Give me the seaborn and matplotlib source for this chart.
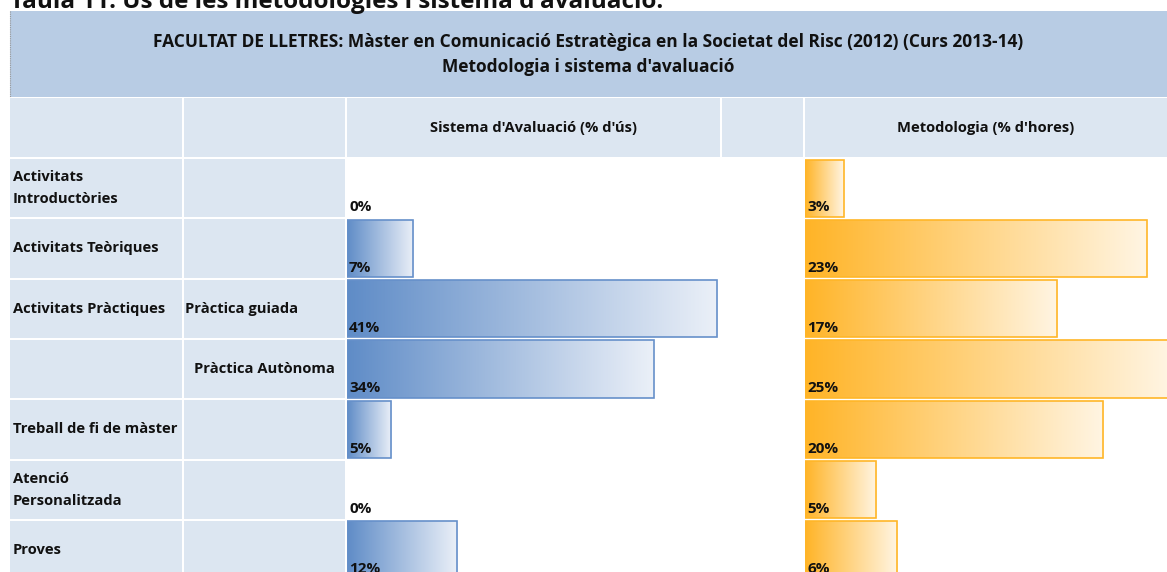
import numpy as np
import pandas as pd
import matplotlib
matplotlib.use("Agg")
import matplotlib.pyplot as plt
import seaborn as sns
from matplotlib.colors import LinearSegmentedColormap
from matplotlib.patches import Rectangle

sns.set_theme(style="white")
plt.rcParams["font.family"] = ["Open Sans", "DejaVu Sans"]

# table content
page_title = "Taula 11: Ús de les metodologies i sistema d'avaluació."
header_line1 = "FACULTAT DE LLETRES: Màster en Comunicació Estratègica en la Societat del Risc (2012) (Curs 2013-14)"
header_line2 = "Metodologia i sistema d'avaluació"
col_eval_title = "Sistema d'Avaluació (% d'ús)"
col_meth_title = "Metodologia (% d'hores)"

row_groups = ["Activitats\nIntroductòries", "Activitats Teòriques", "Activitats Pràctiques", "",
              "Treball de fi de màster", "Atenció\nPersonalitzada", "Proves"]
row_subs = ["", "", "Pràctica guiada", "Pràctica Autònoma", "", "", ""]
row_keys = ["intro", "teor", "guiada", "autonoma", "tfm", "atencio", "proves"]

eval_pct = [0.0, 7.3, 40.9, 33.9, 4.9, 0.0, 12.2]
meth_pct = [2.6, 23.0, 17.0, 24.6, 20.1, 4.8, 6.2]

W, H = 1167, 572
fig = plt.figure(figsize=(W / 100, H / 100), dpi=100)

# background axes in pixel units for the table grid
bg = fig.add_axes([0, 0, 1, 1])
bg.set_xlim(0, W)
bg.set_ylim(H, 0)
bg.axis("off")

HEAD_BLUE = "#B8CCE4"
CELL_BLUE = "#DCE6F1"
cols = [(10, 182), (184, 345), (347, 720), (722, 803), (805, 1175)]
row_top0, pitch, cell_h = 159, 60.3, 58.3

bg.add_patch(Rectangle((10, 11), W - 10, 86, color=HEAD_BLUE, lw=0))
bg.plot([10, 10], [11, 97], color="#9a9a9a", lw=0.8, ls=(0, (1, 1)))
for x0, x1 in cols:
    bg.add_patch(Rectangle((x0, 98), x1 - x0, 59, color=CELL_BLUE, lw=0))
for i in range(len(row_keys)):
    top = row_top0 + i * pitch
    for x0, x1 in cols[:2]:
        bg.add_patch(Rectangle((x0, top), x1 - x0, cell_h, color=CELL_BLUE, lw=0))

txt = dict(fontweight="bold", color="#111111")
bg.text(10, 7.5, page_title, fontsize=17.5, va="baseline", ha="left", **txt)
bg.text(588, 42, header_line1, fontsize=12.5, va="center", ha="center", **txt)
bg.text(588, 67, header_line2, fontsize=12.5, va="center", ha="center", **txt)
bg.text(533, 128, col_eval_title, fontsize=10.6, va="center", ha="center", **txt)
bg.text(986, 128, col_meth_title, fontsize=10.6, va="center", ha="center", **txt)

for i, (g, s) in enumerate(zip(row_groups, row_subs)):
    cy = row_top0 + i * pitch + cell_h / 2
    if g:
        bg.text(13, cy, g, fontsize=10.6, va="center", ha="left", linespacing=1.75, **txt)
    if s:
        if i == 2:
            bg.text(185, cy, s, fontsize=10.6, va="center", ha="left", **txt)
        else:
            bg.text(264.5, cy, s, fontsize=10.6, va="center", ha="center", **txt)


def px_axes(x0, x1, y0, y1):
    return fig.add_axes([x0 / W, 1 - y1 / H, (x1 - x0) / W, (y1 - y0) / H])


def data_bars(ax, values, c_dark, c_light, c_edge, xmax):
    df = pd.DataFrame({"row": row_keys, "pct": values})
    sns.barplot(data=df, x="pct", y="row", orient="h", ax=ax, color=c_dark,
                width=0.95, edgecolor=c_edge, linewidth=1.2, errorbar=None)
    cmap = LinearSegmentedColormap.from_list("grad", [c_dark, c_light])
    grad = np.linspace(0, 1, 256).reshape(1, -1)
    for p in ax.patches:
        x, y, w, h = p.get_x(), p.get_y(), p.get_width(), p.get_height()
        if w <= 0:
            p.set_visible(False)
            continue
        p.set_facecolor("none")
        p.set_zorder(3)
        im = ax.imshow(grad, cmap=cmap, aspect="auto", extent=[x, x + w, y + h, y],
                       zorder=2, interpolation="bilinear")
        im.set_clip_path(p)
    for i, v in enumerate(values):
        ax.annotate(f"{v:.0f}%", xy=(0, i + 0.47), xytext=(1.5, 1.5), textcoords="offset points",
                    ha="left", va="bottom", fontsize=11, fontweight="bold", color="#111111")
    ax.set_xlim(0, xmax)
    ax.set_ylim(len(values) - 0.5, -0.5)
    ax.axis("off")


n = len(row_keys)
ax_eval = px_axes(347, 720, 158, 158 + n * pitch)
data_bars(ax_eval, eval_pct, "#5F8CC7", "#EBF0F8", "#6690CA", (720 - 347) / 9.05)

ax_meth = px_axes(805, W, 158, 158 + n * pitch)
data_bars(ax_meth, meth_pct, "#FFB427", "#FFF5E3", "#FFB628", (W - 805) / 14.85)

fig.savefig("out.png", dpi=100)
